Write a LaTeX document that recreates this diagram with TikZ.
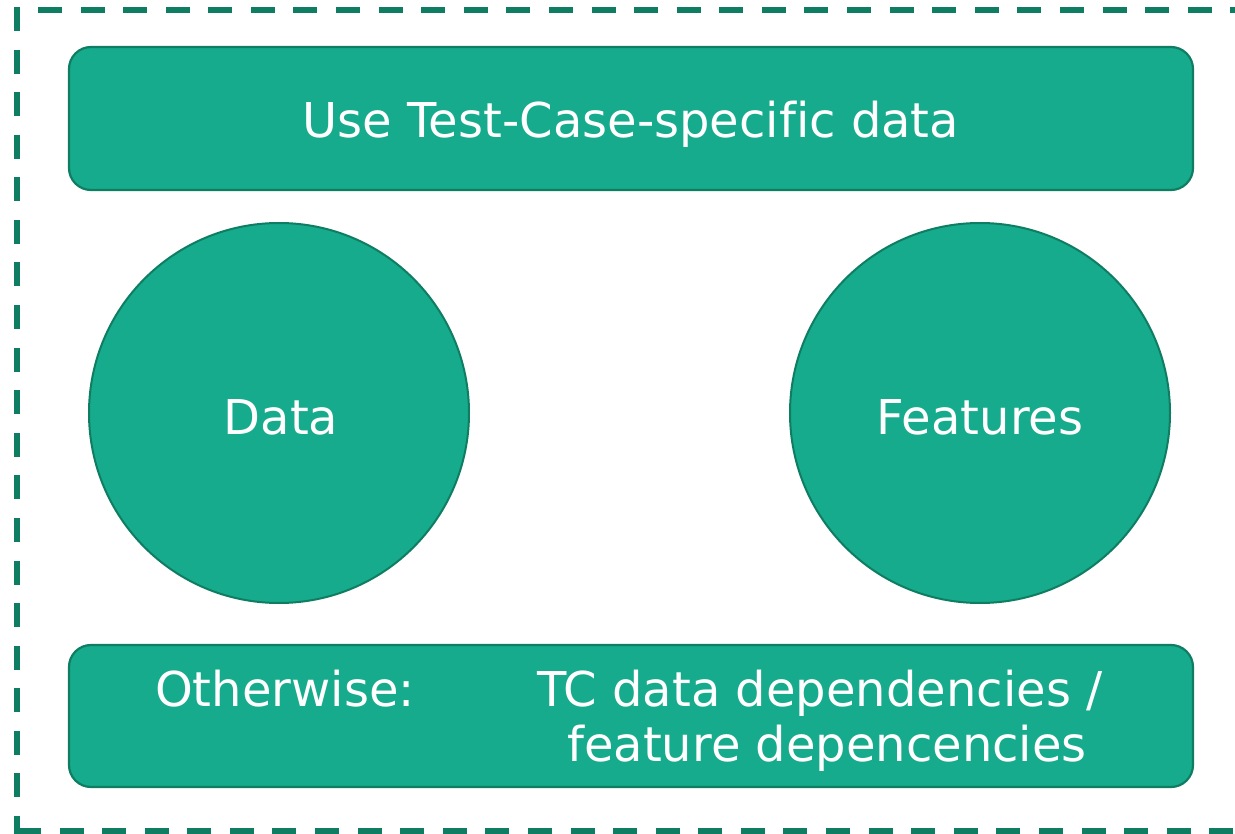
\documentclass[tikz,border=0pt]{standalone}
\usepackage{fontspec}
\setmainfont{DejaVu Sans}[Ligatures=NoCommon]
\definecolor{tealfill}{RGB}{22,171,140}
\definecolor{tealline}{RGB}{15,125,98}
\begin{document}
\begin{tikzpicture}[x=1pt,y=-1pt,
  frameline/.style={draw=tealline,line width=6pt,dash pattern=on 24pt off 18.58pt},
  bar/.style={draw=tealline,line width=2.2pt,fill=tealfill,rounded corners=22pt},
  disc/.style={circle,draw=tealline,line width=2pt,fill=tealfill,minimum size=380pt,inner sep=0pt},
  lbl/.style={text=white,font=\fontsize{48}{55}\selectfont,inner sep=0pt}]
\useasboundingbox (0,0) rectangle (1235,834);
% dashed frame
\draw[frameline] (17,7) -- (17,840);
\draw[frameline] (38,10) -- (1240,10);
\draw[frameline] (17,831) -- (1240,831);
% top bar
\draw[bar] (69,47) rectangle (1193,190);
\node[lbl,anchor=base] (top) at (631,138) {Use Test-Case-specific data};
% circles
\node[disc] (data) at (279,413) {};
\node[lbl,anchor=base] (datalbl) at (281,434) {Data};
\node[disc] (feat) at (980,413) {};
\node[lbl,anchor=base] (featlbl) at (980,434) {Features};
% bottom bar
\draw[bar] (69,645) rectangle (1193,787);
\node[lbl,anchor=base west] (oth) at (155,706) {Otherwise:};
\node[lbl,anchor=base west] (tc1) at (537,706) {TC data dependencies /};
\node[lbl,anchor=base west] (tc2) at (567,761) {feature depencencies};
\end{tikzpicture}
\end{document}
